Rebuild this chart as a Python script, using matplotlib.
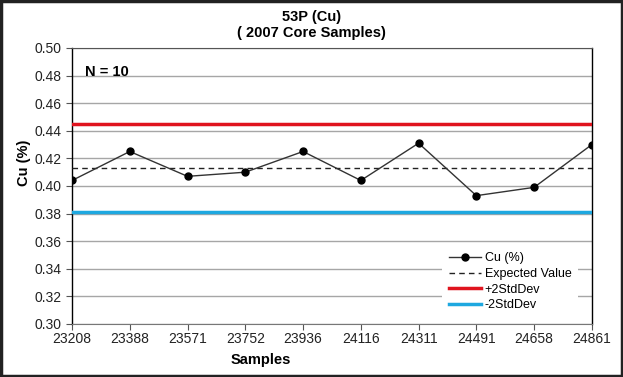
import matplotlib
matplotlib.use("Agg")
import matplotlib.pyplot as plt
from matplotlib.patches import Rectangle

samples = ["23208", "23388", "23571", "23752", "23936", "24116", "24311", "24491", "24658", "24861"]
cu = [0.404, 0.425, 0.407, 0.410, 0.425, 0.404, 0.431, 0.393, 0.399, 0.430]
expected = 0.413
plus2 = 0.445
minus2 = 0.381
yticks = [0.30, 0.32, 0.34, 0.36, 0.38, 0.40, 0.42, 0.44, 0.46, 0.48, 0.50]

plt.rcParams['font.family'] = ['Liberation Sans', 'DejaVu Sans']

fig = plt.figure(figsize=(6.23, 3.77), dpi=100)
ax = fig.add_axes([0.1156, 0.1406, 0.8344, 0.7321])

x = list(range(len(samples)))
ax.set_ylim(0.30, 0.50)
ax.set_xlim(0, len(samples) - 1)
ax.set_yticks(yticks)
ax.set_yticklabels([f"{v:.2f}" for v in yticks])
ax.set_xticks(x)
ax.set_xticklabels(samples)
ax.grid(axis='y', color='#a6a6a6', linewidth=1.0)
ax.set_axisbelow(True)

ax.plot(x, cu, color='#333333', linewidth=1.0, marker='o', markersize=5,
        markerfacecolor='black', markeredgecolor='black', label='Cu (%)', zorder=5)
ax.axhline(expected, color='#222222', linestyle=(0, (4, 3)), linewidth=1.0, label='Expected Value', zorder=4)
ax.axhline(plus2, color='#e0141e', linewidth=2.5, label='+2StdDev', zorder=4)
ax.axhline(minus2, color='#1ea8e0', linewidth=2.5, label='-2StdDev', zorder=4)

for s in ['left', 'right']:
    ax.spines[s].set_color('black')
    ax.spines[s].set_linewidth(1.0)
ax.spines['top'].set_color('#555555')
ax.spines['bottom'].set_color('#777777')
ax.tick_params(axis='both', labelsize=10, labelcolor='#222222', color='#555555', length=4, width=0.8)
ax.tick_params(axis='x', pad=2)

ax.set_xlabel('Samples', fontsize=10.5, fontweight='bold')
ax.xaxis.set_label_coords(0.363, -0.105)
ax.set_ylabel('Cu (%)', fontsize=10.5, fontweight='bold')
ax.yaxis.set_label_coords(-0.078, 0.583)

fig.text(0.5, 1 - 17 / 377, '53P (Cu)', fontsize=10.5, fontweight='bold', ha='center', va='center')
fig.text(0.5, 1 - 33 / 377, '( 2007 Core Samples)', fontsize=10.5, fontweight='bold', ha='center', va='center')

ax.text(0.025, 0.94, 'N = 10', transform=ax.transAxes, fontsize=10.5, fontweight='bold', va='top', ha='left')

leg = ax.legend(loc='lower right', bbox_to_anchor=(0.985, 0.0), fontsize=9, frameon=True,
                fancybox=False, edgecolor='none', facecolor='white', framealpha=1.0,
                handlelength=2.6, handletextpad=0.3, borderpad=0.5, labelspacing=0.3)
leg.set_zorder(10)

fig.patches.append(Rectangle((0.002, 0.003), 0.996, 0.994, transform=fig.transFigure,
                             fill=False, edgecolor='#222222', linewidth=2.5))

fig.savefig('out.png', dpi=100)
